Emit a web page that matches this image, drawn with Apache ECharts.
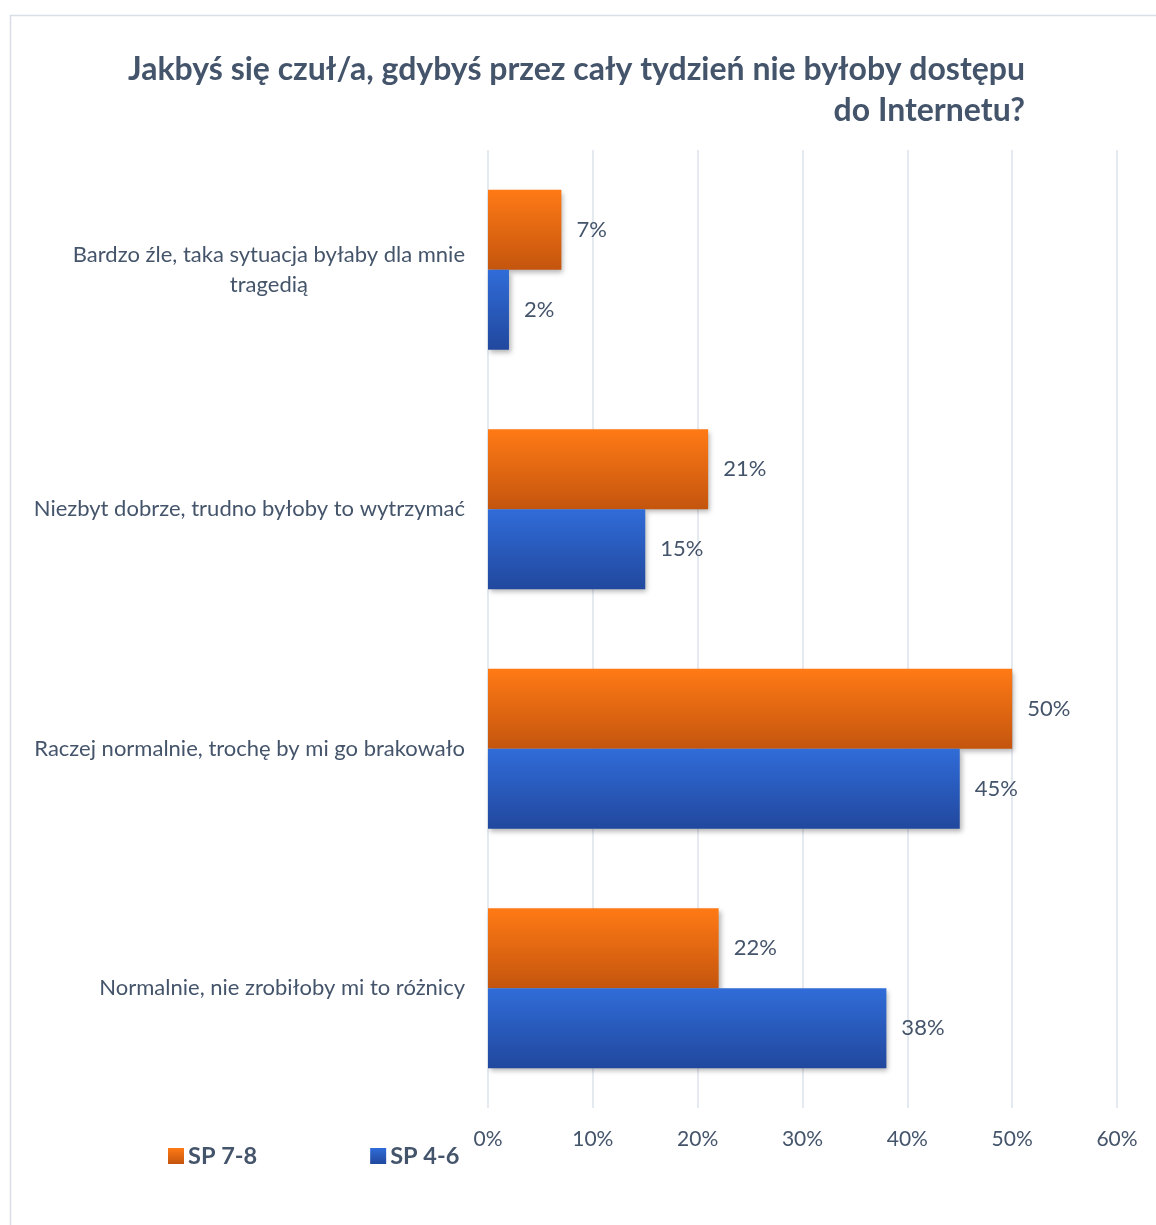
<!DOCTYPE html>
<html>
<head>
<meta charset="utf-8">
<script src="https://cdn.jsdelivr.net/npm/echarts@6/dist/echarts.min.js"></script>
<style>
html,body{margin:0;padding:0;background:#fff;}
#chart{width:1156px;height:1225px;}
</style>
</head>
<body>
<div id="chart"></div>
<script>
const categories = [
  'Bardzo źle, taka sytuacja byłaby dla mnie\ntragedią',
  'Niezbyt dobrze, trudno byłoby to wytrzymać',
  'Raczej normalnie, trochę by mi go brakowało',
  'Normalnie, nie zrobiłoby mi to różnicy'
];
const seriesNames = ['SP 7-8', 'SP 4-6'];
const sp78 = [7, 21, 50, 22];
const sp46 = [2, 15, 45, 38];
const xTicks = { min: 0, max: 60, interval: 10 };
const titleText = 'Jakbyś się czuł/a, gdybyś przez cały tydzień nie byłoby dostępu\ndo Internetu?';

const FONT = 'Lato, "Open Sans", sans-serif';
const TXT = '#44546A';

const orange = new echarts.graphic.LinearGradient(0, 0, 0, 1, [
  { offset: 0, color: '#FF7A15' },
  { offset: 1, color: '#C4550E' }
]);
const blue = new echarts.graphic.LinearGradient(0, 0, 0, 1, [
  { offset: 0, color: '#306CD8' },
  { offset: 1, color: '#21489E' }
]);

const chart = echarts.init(document.getElementById('chart'), null, { renderer: 'canvas' });

function barSeries(name, data, color) {
  return {
    name: name,
    type: 'bar',
    data: data,
    barWidth: 80,
    barGap: '0%',
    itemStyle: {
      color: color,
      shadowColor: 'rgba(0,0,0,0.3)',
      shadowBlur: 5,
      shadowOffsetX: 2,
      shadowOffsetY: 3
    },
    label: {
      show: true,
      position: 'right',
      distance: 15,
      formatter: '{c}%',
      color: TXT,
      fontFamily: FONT,
      fontSize: 22
    }
  };
}

chart.setOption({
  backgroundColor: '#fff',
  animation: false,
  graphic: [
    {
      type: 'rect',
      left: 8, top: 13,
      shape: { width: 1200, height: 1250 },
      style: { fill: 'none', stroke: '#D9DEE6', lineWidth: 1.5 },
      z: -10
    },
    {
      type: 'text',
      x: 1025, y: 49,
      style: {
        text: titleText,
        align: 'right',
        verticalAlign: 'top',
        font: 'bold 32px ' + FONT,
        lineHeight: 41,
        fill: TXT
      }
    }
  ],
  legend: {
    left: 163,
    top: 1139,
    itemWidth: 16,
    itemHeight: 16,
    itemGap: 113,
    icon: 'rect',
    data: seriesNames,
    textStyle: {
      color: TXT,
      fontFamily: FONT,
      fontWeight: 'bold',
      fontSize: 23.5,
      padding: [0, 0, 0, -1]
    }
  },
  grid: {
    left: 488,
    right: 39,
    top: 150,
    bottom: 117
  },
  xAxis: {
    type: 'value',
    min: xTicks.min,
    max: xTicks.max,
    interval: xTicks.interval,
    axisLine: { show: false },
    axisTick: { show: false },
    axisLabel: {
      formatter: '{value}%',
      color: TXT,
      fontFamily: FONT,
      fontSize: 21,
      margin: 21
    },
    splitLine: { lineStyle: { color: '#DCE3EC', width: 1.5 } }
  },
  yAxis: {
    type: 'category',
    inverse: true,
    data: categories,
    axisLine: { show: false },
    axisTick: { show: false },
    axisLabel: {
      margin: 23,
      color: TXT,
      fontFamily: FONT,
      fontSize: 22,
      lineHeight: 30,
      formatter: function (v) {
        return v.split('\n').map(function (s) { return '{c|' + s + '}'; }).join('\n');
      },
      rich: {
        c: { align: 'center', color: TXT, fontFamily: FONT, fontSize: 22, lineHeight: 30 }
      }
    }
  },
  series: [
    barSeries(seriesNames[0], sp78, orange),
    barSeries(seriesNames[1], sp46, blue)
  ]
});
</script>
</body>
</html>
